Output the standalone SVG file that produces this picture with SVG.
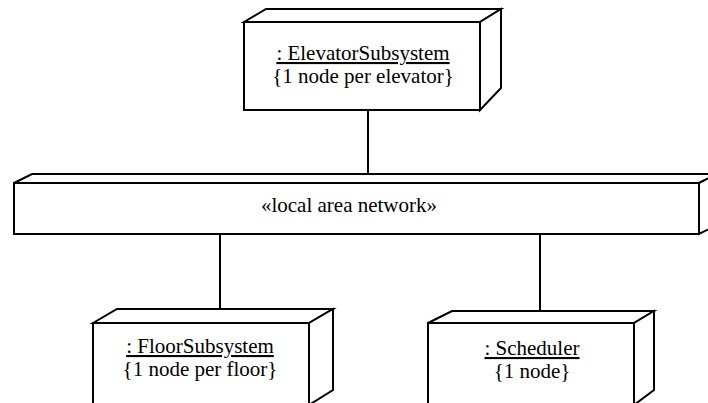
<svg xmlns="http://www.w3.org/2000/svg" width="708" height="403" viewBox="0 0 708 403">
  <style>
    .box { fill: #ffffff; stroke: #000000; stroke-width: 2; stroke-linejoin: miter; }
    .conn { stroke: #000000; stroke-width: 2; fill: none; }
    text { font-family: "Liberation Serif", "Times New Roman", serif; font-size: 21px; fill: #000000; text-anchor: middle; }
    .name { text-decoration: underline; }
  </style>
  <rect x="0" y="0" width="708" height="403" fill="#ffffff"/>
  <g id="connectors">
    <line class="conn" x1="368" y1="110" x2="368" y2="174"/>
    <line class="conn" x1="220" y1="234" x2="220" y2="309"/>
    <line class="conn" x1="540" y1="234" x2="540" y2="311"/>
  </g>
  <g id="elevator-subsystem">
    <polygon class="box" points="244,22 266,9 501,9 480,22"/>
    <polygon class="box" points="480,22 501,9 501,88 480,110"/>
    <rect class="box" x="244" y="22" width="236" height="88"/>
    <text class="name" x="363" y="60">: ElevatorSubsystem</text>
    <text x="363" y="83">{1 node per elevator}</text>
  </g>
  <g id="local-area-network">
    <polygon class="box" points="14,183 32,174 717,174 699,183"/>
    <polygon class="box" points="699,183 717,174 717,225 699,234"/>
    <rect class="box" x="14" y="183" width="685" height="51"/>
    <text x="349" y="212">«local area network»</text>
  </g>
  <g id="floor-subsystem">
    <polygon class="box" points="93,323 117,309 333,309 309,323"/>
    <polygon class="box" points="309,323 333,309 333,390 309,405"/>
    <rect class="box" x="93" y="323" width="216" height="82"/>
    <text class="name" x="200" y="353">: FloorSubsystem</text>
    <text x="200" y="376">{1 node per floor}</text>
  </g>
  <g id="scheduler">
    <polygon class="box" points="428,323 452,311 654,311 634,323"/>
    <polygon class="box" points="634,323 654,311 654,390 634,405"/>
    <rect class="box" x="428" y="323" width="206" height="82"/>
    <text class="name" x="532" y="355">: Scheduler</text>
    <text x="532" y="378">{1 node}</text>
  </g>
</svg>
